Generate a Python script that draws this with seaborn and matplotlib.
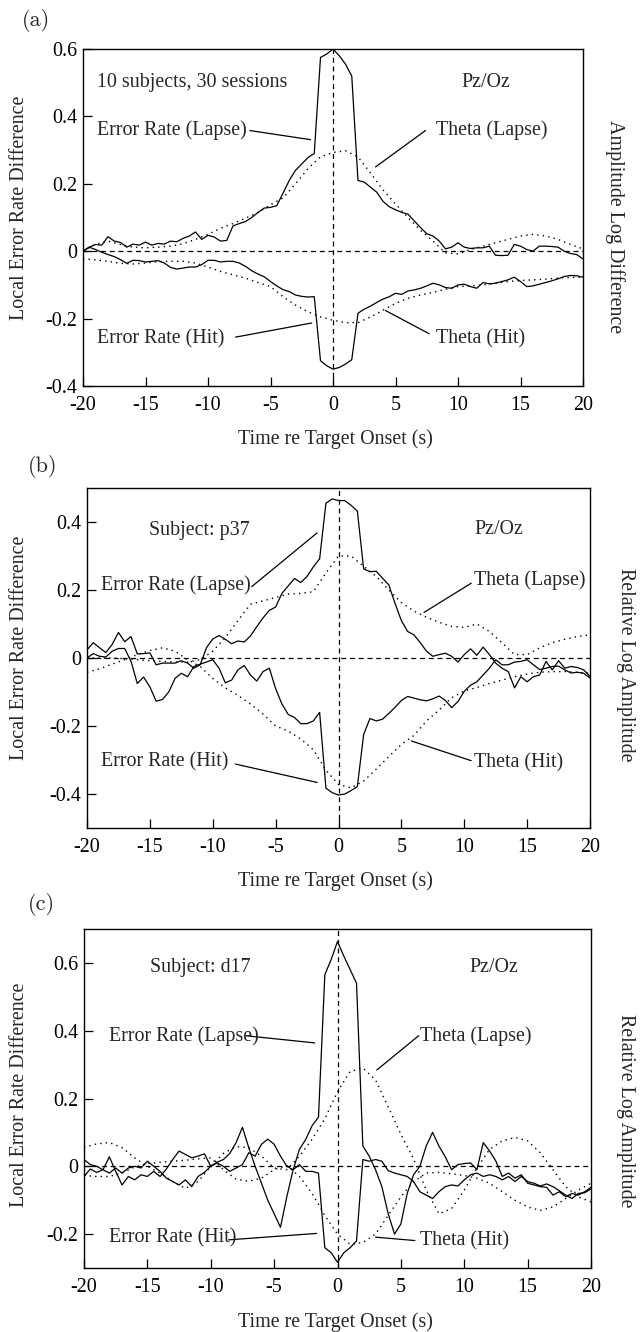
import numpy as np
import matplotlib
matplotlib.use("Agg")
import matplotlib.pyplot as plt
import seaborn as sns

sns.set_style("ticks")
plt.rcParams['font.family'] = ['Liberation Serif', 'DejaVu Serif']
plt.rcParams['axes.unicode_minus'] = False
plt.rcParams['axes.edgecolor'] = 'black'

# sample times (s)
time_err = np.arange(-20, 20.25, 0.5)
time_theta = np.arange(-20, 21, 1)

### Panel (a) - 10 subjects, 30 sessions
a_err_lapse = [0.0, 0.012, 0.02, 0.018, 0.043, 0.03, 0.026, 0.012, 0.021, 0.018,
               0.027, 0.018, 0.023, 0.021, 0.03, 0.028, 0.038, 0.045, 0.057, 0.035,
               0.047, 0.042, 0.03, 0.032, 0.075, 0.082, 0.088, 0.1, 0.115, 0.128,
               0.13, 0.135, 0.172, 0.21, 0.24, 0.259, 0.278, 0.29, 0.575, 0.585,
               0.6, 0.58, 0.555, 0.52, 0.21, 0.205, 0.19, 0.175, 0.148, 0.132,
               0.123, 0.115, 0.11, 0.09, 0.07, 0.052, 0.045, 0.03, 0.007, 0.012,
               0.025, 0.012, 0.008, 0.01, 0.01, 0.015, -0.012, -0.013, -0.012, 0.02,
               0.015, 0.005, 0.0, 0.015, 0.015, 0.014, 0.012, 0.0, -0.007, -0.01,
               -0.023]
a_err_hit = [0.0, 0.012, 0.005, -0.003, -0.01, -0.016, -0.025, -0.036, -0.027, -0.028,
             -0.032, -0.03, -0.028, -0.035, -0.048, -0.053, -0.05, -0.047, -0.047, -0.04,
             -0.027, -0.027, -0.032, -0.03, -0.03, -0.035, -0.045, -0.058, -0.068, -0.076,
             -0.09, -0.103, -0.114, -0.12, -0.13, -0.134, -0.136, -0.135, -0.325, -0.34,
             -0.35, -0.345, -0.335, -0.322, -0.184, -0.172, -0.163, -0.152, -0.142, -0.135,
             -0.125, -0.128, -0.118, -0.115, -0.11, -0.103, -0.095, -0.1, -0.108, -0.11,
             -0.1, -0.098, -0.105, -0.11, -0.093, -0.097, -0.095, -0.09, -0.085, -0.077,
             -0.09, -0.105, -0.103, -0.098, -0.093, -0.088, -0.082, -0.075, -0.072, -0.073,
             -0.077]
a_theta_lapse = [0.002, 0.02, 0.03, 0.02, 0.012, 0.01, 0.012, 0.015, 0.022, 0.035,
                 0.05, 0.068, 0.082, 0.098, 0.115, 0.138, 0.158, 0.2, 0.245, 0.28,
                 0.293, 0.298, 0.28, 0.232, 0.182, 0.14, 0.1, 0.062, 0.03, -0.005,
                 -0.008, 0.005, 0.015, 0.025, 0.035, 0.045, 0.05, 0.045, 0.035, 0.02,
                 0.007]
a_theta_hit = [-0.022, -0.026, -0.03, -0.036, -0.038, -0.035, -0.031, -0.03, -0.03, -0.035,
               -0.047, -0.06, -0.07, -0.08, -0.093, -0.105, -0.135, -0.16, -0.18, -0.195,
               -0.205, -0.212, -0.212, -0.195, -0.175, -0.155, -0.14, -0.13, -0.122, -0.113,
               -0.105, -0.103, -0.1, -0.095, -0.09, -0.087, -0.085, -0.083, -0.08, -0.078,
               -0.077]

### Panel (b) - subject p37
b_err_lapse = [0.024, 0.045, 0.03, 0.016, 0.04, 0.075, 0.048, 0.063, 0.012, 0.013,
               0.015, -0.02, -0.015, -0.015, -0.015, -0.008, -0.015, -0.03, -0.02, 0.03,
               0.056, 0.066, 0.055, 0.042, 0.05, 0.047, 0.065, 0.092, 0.118, 0.14,
               0.15, 0.19, 0.212, 0.234, 0.222, 0.24, 0.268, 0.292, 0.455, 0.468,
               0.463, 0.463, 0.449, 0.432, 0.262, 0.254, 0.255, 0.235, 0.215, 0.16,
               0.11, 0.078, 0.068, 0.045, 0.02, 0.005, 0.01, 0.014, 0.005, -0.012,
               0.01, 0.027, 0.008, 0.032, 0.01, -0.015, -0.03, -0.04, -0.088, -0.055,
               -0.07, -0.055, -0.05, -0.01, -0.035, -0.008, -0.03, -0.025, -0.028, -0.035,
               -0.054]
b_err_hit = [0.0, 0.013, 0.005, 0.003, 0.02, 0.028, 0.028, -0.01, -0.075, -0.056,
             -0.085, -0.127, -0.122, -0.1, -0.06, -0.045, -0.055, -0.025, -0.018, -0.012,
             -0.005, -0.03, -0.073, -0.065, -0.035, -0.022, -0.05, -0.068, -0.04, -0.03,
             -0.09, -0.135, -0.166, -0.175, -0.193, -0.193, -0.185, -0.16, -0.383, -0.396,
             -0.403, -0.4, -0.39, -0.378, -0.225, -0.178, -0.185, -0.18, -0.163, -0.145,
             -0.125, -0.113, -0.118, -0.123, -0.126, -0.12, -0.112, -0.125, -0.146, -0.128,
             -0.098, -0.08, -0.07, -0.05, -0.03, -0.005, -0.02, -0.02, -0.012, -0.01,
             -0.005, -0.02, -0.034, -0.03, -0.025, -0.024, -0.035, -0.044, -0.042, -0.045,
             -0.059]
b_theta_lapse = [0.0, 0.0, 0.0, -0.002, -0.005, -0.008, -0.01, -0.012, -0.012, -0.005,
                 0.02, 0.06, 0.11, 0.158, 0.168, 0.178, 0.188, 0.19, 0.195, 0.25,
                 0.3, 0.3, 0.27, 0.24, 0.2, 0.163, 0.138, 0.12, 0.105, 0.093,
                 0.09, 0.1, 0.078, 0.045, 0.01, 0.01, 0.03, 0.045, 0.055, 0.063,
                 0.068]
b_theta_hit = [-0.042, -0.032, -0.018, -0.005, 0.01, 0.022, 0.03, 0.02, -0.005, -0.025,
               -0.06, -0.088, -0.11, -0.135, -0.165, -0.2, -0.215, -0.238, -0.27, -0.33,
               -0.372, -0.382, -0.362, -0.327, -0.29, -0.254, -0.228, -0.185, -0.153, -0.117,
               -0.097, -0.087, -0.075, -0.065, -0.055, -0.047, -0.042, -0.04, -0.04, -0.042,
               -0.045]

### Panel (c) - subject d17
c_err_lapse = [-0.03, -0.008, -0.018, -0.01, 0.028, -0.015, -0.055, -0.03, -0.04, -0.025,
               -0.03, -0.015, -0.03, -0.008, 0.02, 0.045, 0.035, 0.025, 0.03, 0.037,
               0.0, 0.012, 0.02, 0.038, 0.07, 0.115, 0.055, 0.0, -0.05, -0.1,
               -0.14, -0.18, -0.09, -0.01, 0.05, 0.08, 0.12, 0.145, 0.565, 0.61,
               0.663, 0.62, 0.58, 0.54, 0.06, 0.03, -0.01, -0.06, -0.14, -0.2,
               -0.17, -0.08, -0.025, 0.0, 0.06, 0.1, 0.06, 0.028, -0.01, 0.005,
               0.008, 0.01, -0.01, 0.07, 0.045, 0.015, -0.03, -0.02, -0.035, -0.025,
               -0.05, -0.055, -0.06, -0.062, -0.085, -0.075, -0.09, -0.08, -0.085, -0.075,
               -0.062]
c_err_hit = [0.02, 0.005, 0.0, -0.01, -0.02, -0.005, -0.02, -0.005, 0.0, -0.005,
             0.015, 0.0, -0.015, -0.035, -0.045, -0.055, -0.04, -0.06, -0.03, -0.018,
             0.0, 0.01, 0.0, -0.015, -0.005, 0.005, 0.04, 0.03, 0.065, 0.08,
             0.065, 0.03, 0.0, -0.01, 0.005, -0.015, -0.015, -0.02, -0.24, -0.255,
             -0.283, -0.255, -0.24, -0.22, 0.02, 0.015, 0.02, 0.015, -0.013, -0.02,
             -0.025, -0.03, -0.045, -0.075, -0.085, -0.095, -0.075, -0.06, -0.055, -0.058,
             -0.04, -0.025, -0.02, -0.03, -0.025, -0.03, -0.04, -0.03, -0.045, -0.03,
             -0.045, -0.05, -0.058, -0.052, -0.06, -0.072, -0.085, -0.095, -0.08, -0.078,
             -0.067]
c_theta_lapse = [0.056, 0.066, 0.07, 0.055, 0.025, 0.0, -0.02, -0.045, -0.065, -0.045,
                 0.0, 0.038, 0.058, 0.055, 0.03, -0.005, -0.01, 0.03, 0.08, 0.14,
                 0.22, 0.28, 0.29, 0.255, 0.175, 0.095, 0.022, -0.07, -0.14, -0.125,
                 -0.07, -0.005, 0.05, 0.075, 0.085, 0.075, 0.04, -0.01, -0.06, -0.09,
                 -0.105]
c_theta_hit = [-0.027, -0.03, -0.03, -0.02, -0.002, 0.008, 0.012, 0.015, 0.018, 0.022,
               0.025, -0.01, -0.038, -0.044, -0.035, -0.01, 0.002, -0.03, -0.08, -0.145,
               -0.2, -0.23, -0.225, -0.2, -0.145, -0.09, -0.045, -0.02, -0.018, -0.022,
               -0.027, -0.035, -0.05, -0.075, -0.1, -0.12, -0.13, -0.12, -0.095, -0.07,
               -0.05]

xticks = [-20, -15, -10, -5, 0, 5, 10, 15, 20]
fs = 14.4

fig = plt.figure(figsize=(6.4, 13.32), dpi=100)


def px_axes(left, right, top, bottom):
    # axes box given in pixel coords of the 640x1332 picture
    return fig.add_axes([left / 640, 1 - bottom / 1332, (right - left) / 640, (bottom - top) / 1332])


def draw_panel(ax, err_lapse, err_hit, th_lapse, th_hit, ylim, yticks):
    ax.axhline(0, color='k', lw=0.9, ls=(0, (4, 3)), zorder=1)
    ax.axvline(0, color='k', lw=0.9, ls=(0, (4, 3)), zorder=1)
    for vals in (th_lapse, th_hit):
        sns.lineplot(x=time_theta, y=vals, ax=ax, color='k', lw=1.0,
                     linestyle=(0, (1, 3)))
    for vals in (err_lapse, err_hit):
        sns.lineplot(x=time_err, y=vals, ax=ax, color='k', lw=0.9)
    ax.set_xlim(-20, 20)
    ax.set_ylim(*ylim)
    ax.set_xticks(xticks)
    ax.set_xticklabels([str(v) for v in xticks])
    ax.set_yticks(yticks)
    ax.set_yticklabels(['0' if v == 0 else f'{v:.1f}' for v in yticks])
    ax.tick_params(axis='both', direction='in', length=6.5, width=0.9,
                   labelsize=fs, colors='k')
    ax.tick_params(axis='x', pad=7)
    ax.tick_params(axis='y', pad=4)
    ax.set_xlabel('')
    ax.set_ylabel('')
    for s in ax.spines.values():
        s.set_linewidth(1.0)
        s.set_color('k')


def label(ax, x, y, txt, **kw):
    ax.text(x, y, txt, fontsize=fs, va='center', **kw)


def leader(ax, x0, y0, x1, y1):
    ax.plot([x0, x1], [y0, y1], color='k', lw=0.9)


# (a)
ax1 = px_axes(83, 583, 49, 386)
draw_panel(ax1, a_err_lapse, a_err_hit, a_theta_lapse, a_theta_hit,
           (-0.4, 0.6), [-0.4, -0.2, 0, 0.2, 0.4, 0.6])
label(ax1, -18.9, 0.5, '10 subjects, 30 sessions')
label(ax1, 12.25, 0.5, 'Pz/Oz', ha='center')
label(ax1, -18.9, 0.358, 'Error Rate (Lapse)')
leader(ax1, -6.65, 0.358, -1.8, 0.331)
label(ax1, 8.2, 0.358, 'Theta (Lapse)')
leader(ax1, 7.4, 0.358, 3.4, 0.25)
label(ax1, -18.9, -0.26, 'Error Rate (Hit)')
leader(ax1, -7.8, -0.255, -1.7, -0.213)
label(ax1, 8.2, -0.26, 'Theta (Hit)')
leader(ax1, 7.7, -0.245, 4.2, -0.176)

# (b)
ax2 = px_axes(87, 590, 488, 828)
draw_panel(ax2, b_err_lapse, b_err_hit, b_theta_lapse, b_theta_hit,
           (-0.5, 0.5), [-0.4, -0.2, 0, 0.2, 0.4])
label(ax2, -15.1, 0.374, 'Subject: p37')
label(ax2, 12.76, 0.378, 'Pz/Oz', ha='center')
label(ax2, -18.9, 0.215, 'Error Rate (Lapse)')
leader(ax2, -6.9, 0.21, -1.7, 0.368)
label(ax2, 10.8, 0.229, 'Theta (Lapse)')
leader(ax2, 10.55, 0.22, 6.8, 0.134)
label(ax2, -18.9, -0.305, 'Error Rate (Hit)')
leader(ax2, -8.2, -0.312, -1.7, -0.366)
label(ax2, 10.8, -0.307, 'Theta (Hit)')
leader(ax2, 10.55, -0.302, 5.8, -0.244)

# (c)
ax3 = px_axes(84, 591, 929, 1268)
draw_panel(ax3, c_err_lapse, c_err_hit, c_theta_lapse, c_theta_hit,
           (-0.3, 0.7), [-0.2, 0, 0.2, 0.4, 0.6])
label(ax3, -14.8, 0.585, 'Subject: d17')
label(ax3, 12.34, 0.585, 'Pz/Oz', ha='center')
label(ax3, -18.0, 0.385, 'Error Rate (Lapse)')
leader(ax3, -7.2, 0.385, -1.8, 0.364)
label(ax3, 6.5, 0.385, 'Theta (Lapse)')
leader(ax3, 6.4, 0.385, 3.1, 0.284)
label(ax3, -18.0, -0.212, 'Error Rate (Hit)')
leader(ax3, -8.6, -0.217, -1.65, -0.198)
label(ax3, 6.5, -0.219, 'Theta (Hit)')
leader(ax3, 6.1, -0.219, 3.0, -0.209)

# axis titles and panel letters, placed in picture pixels
def ftext(x, y, txt, **kw):
    fig.text(x / 640, 1 - y / 1332, txt, ha='center', va='center', **kw)

for yl, yr, xl, right_txt, xr in [(208, 227, 439, 'Amplitude Log Difference', 615),
                                  (648, 665, 881, 'Relative Log Amplitude', 626),
                                  (1095, 1111, 1322, 'Relative Log Amplitude', 625)]:
    ftext(20, yl, 'Local Error Rate Difference', rotation=90, fontsize=fs)
    ftext(xr, yr, right_txt, rotation=-90, fontsize=fs)
    ftext(335, xl, 'Time re Target Onset (s)', fontsize=fs)

for x, y, txt in [(36, 20, '(a)'), (43, 467, '(b)'), (41, 905, '(c)')]:
    ftext(x, y, txt, fontsize=16, family=['cmr10', 'DejaVu Serif'])

fig.savefig('out.png', dpi=100)
